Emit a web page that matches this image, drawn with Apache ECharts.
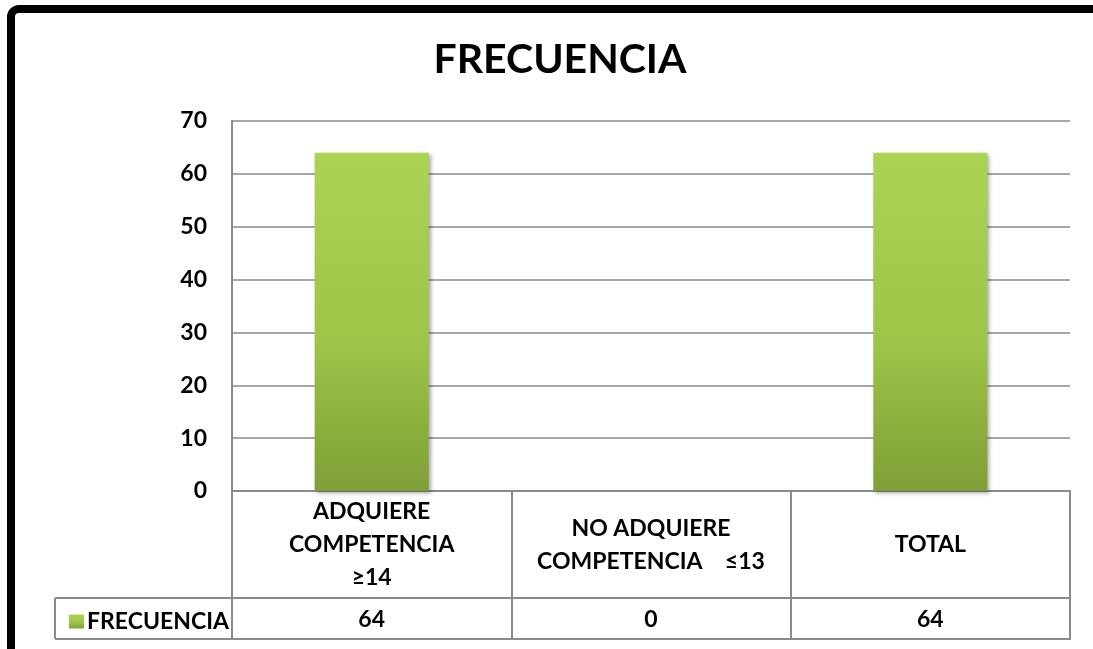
<!DOCTYPE html>
<html>
<head>
<meta charset="utf-8">
<title>FRECUENCIA</title>
<script src="https://cdn.jsdelivr.net/npm/echarts@6/dist/echarts.min.js"></script>
<style>
  html, body { margin: 0; padding: 0; background: #fff; }
  #chart { width: 1093px; height: 649px; }
</style>
</head>
<body>
<div id="chart"></div>
<script>
// datos del gráfico
const categories = ["ADQUIERE\nCOMPETENCIA\n≥14", "NO ADQUIERE\nCOMPETENCIA    ≤13", "TOTAL"];
const seriesName = "FRECUENCIA";
const frecuencia = [64, 0, 64];
const yTicks = { min: 0, max: 70, interval: 10 };

const FONT = "Lato, 'Open Sans', sans-serif";
const GRAY = "#8a8a8a";

// relleno verde de las barras
const barFill = new echarts.graphic.LinearGradient(0, 0, 0, 1, [
  { offset: 0, color: "#abd455" },
  { offset: 0.55, color: "#9dc649" },
  { offset: 1, color: "#7e9f36" }
]);

const chart = echarts.init(document.getElementById("chart"));

const option = {
  animation: false,
  textStyle: { fontFamily: FONT },
  title: {
    text: "FRECUENCIA",
    left: 555,
    top: 34,
    textAlign: "center",
    textStyle: { fontFamily: FONT, fontSize: 41, fontWeight: "bold", color: "#000" }
  },
  legend: {
    data: [seriesName],
    left: 64,
    top: 605,
    icon: "rect",
    itemWidth: 15,
    itemHeight: 14,
    itemGap: 6,
    textStyle: { fontFamily: FONT, fontSize: 23, fontWeight: "bold", color: "#000", padding: [0, 0, 0, -2] }
  },
  grid: { left: 232, right: 23, top: 121, bottom: 158, containLabel: false },
  xAxis: [
    {
      type: "category",
      data: categories,
      position: "bottom",
      axisLine: { show: true, lineStyle: { color: GRAY, width: 2 } },
      axisTick: { show: true, length: 148, interval: 0, lineStyle: { color: GRAY, width: 2 } },
      axisLabel: {
        interval: 0,
        margin: 54,
        verticalAlign: "middle",
        lineHeight: 33,
        fontFamily: FONT,
        fontSize: 23,
        fontWeight: "bold",
        color: "#000"
      }
    },
    {
      // fila de valores de la tabla
      type: "category",
      data: frecuencia.map(String),
      position: "bottom",
      offset: 107,
      axisLine: { show: false },
      axisTick: { show: false },
      axisLabel: {
        interval: 0,
        margin: 22,
        verticalAlign: "middle",
        fontFamily: FONT,
        fontSize: 23,
        fontWeight: "bold",
        color: "#000"
      }
    }
  ],
  yAxis: {
    type: "value",
    min: yTicks.min,
    max: yTicks.max,
    interval: yTicks.interval,
    axisLine: { show: true, lineStyle: { color: GRAY, width: 2 } },
    axisTick: { show: false },
    splitLine: { show: true, lineStyle: { color: GRAY, width: 1.5 } },
    axisLabel: { margin: 25, fontFamily: FONT, fontSize: 23, fontWeight: "bold", color: "#000" }
  },
  series: [
    {
      name: seriesName,
      type: "bar",
      xAxisIndex: 0,
      data: frecuencia,
      barWidth: 114,
      itemStyle: {
        color: barFill,
        shadowColor: "rgba(0,0,0,0.35)",
        shadowBlur: 4,
        shadowOffsetX: 2,
        shadowOffsetY: 2
      }
    }
  ],
  graphic: [
    // marco negro
    {
      type: "rect",
      shape: { x: 11, y: 9, width: 1300, height: 900, r: 8 },
      style: { fill: null, stroke: "#000", lineWidth: 8 },
      z: 100
    },
    // líneas de la tabla
    { type: "line", shape: { x1: 55, y1: 598, x2: 1071, y2: 598 }, style: { stroke: GRAY, lineWidth: 2 } },
    { type: "line", shape: { x1: 55, y1: 639, x2: 1071, y2: 639 }, style: { stroke: GRAY, lineWidth: 2 } },
    { type: "line", shape: { x1: 55, y1: 598, x2: 55, y2: 639 }, style: { stroke: GRAY, lineWidth: 2 } }
  ]
};

chart.setOption(option);
</script>
</body>
</html>
